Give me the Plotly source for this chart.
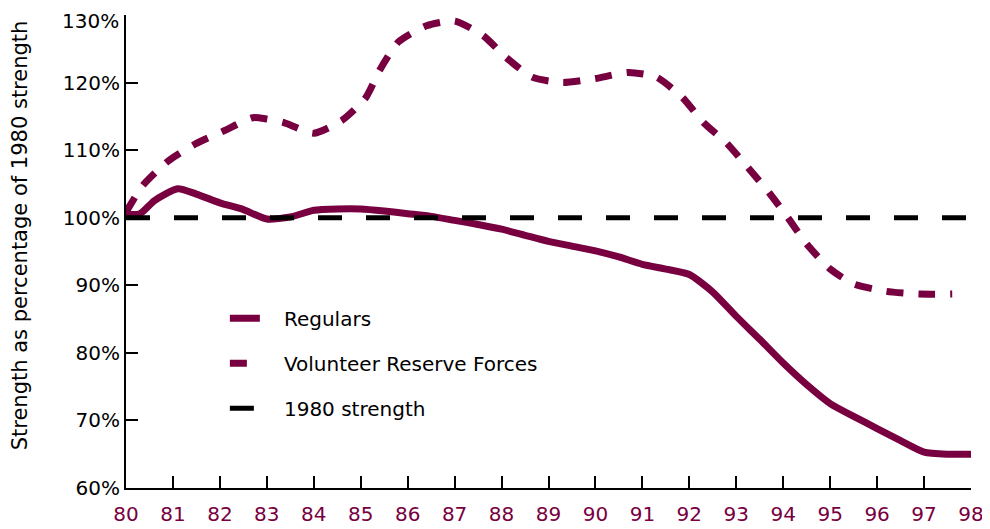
import plotly.graph_objects as go

# Regulars (solid) - year (19xx) vs % of 1980 strength
reg_years = [80, 80.3, 80.6, 81.1, 81.5, 82, 82.5, 83, 83.5, 84, 84.5, 85, 85.5, 86, 86.5,
             87, 87.5, 88, 88.5, 89, 89.5, 90, 90.5, 91, 91.5, 92, 92.5, 93, 93.5, 94,
             94.5, 95, 95.5, 96, 96.5, 97, 97.5, 98]
reg_vals = [100.5, 100.6, 102.5, 104.3, 103.5, 102.2, 101.2, 99.8, 100.1, 101.1, 101.3, 101.3,
            101.0, 100.6, 100.2, 99.6, 99.0, 98.3, 97.4, 96.5, 95.8, 95.1, 94.2, 93.1, 92.4,
            91.6, 89.0, 85.4, 82.0, 78.5, 75.3, 72.5, 70.6, 68.8, 67.0, 65.3, 65.0, 65.0]

# Volunteer Reserve Forces (dashed)
vrf_years = [80, 80.35, 80.9, 81.5, 82.1, 82.7, 83.0, 83.35, 84.0, 84.6, 85.1, 85.4, 85.8,
             86.4, 87.0, 87.6, 88.1, 88.65, 89.3, 90.0, 90.7, 91.3, 91.85, 92.3, 92.8,
             93.25, 93.7, 94.1, 94.5, 95.0, 95.5, 96.2, 96.9, 97.6]
vrf_vals = [100.8, 104.7, 108.4, 111.0, 112.9, 114.8, 114.6, 114.1, 112.5, 114.4, 117.7,
            121.8, 126.0, 128.4, 129.1, 127.0, 123.7, 120.8, 120.0, 120.6, 121.5, 120.8,
            117.8, 114.1, 111.0, 107.4, 103.7, 100.0, 96.1, 92.4, 90.2, 89.1, 88.7, 88.7]

# 1980 strength baseline
base_years = [80, 98]
base_vals = [100, 100]

y_ticks = [60, 70, 80, 90, 100, 110, 120, 130]
y_tick_labels = ["60%", "70%", "80%", "90%", "100%", "110%", "120%", "130%"]
x_ticks = list(range(80, 99))
x_tick_labels = [str(v) for v in x_ticks]
y_title = "Strength as percentage of 1980 strength"

MAROON = "#780040"
FONT = "DejaVu Sans, Verdana, sans-serif"
PAD = "\u00a0\u00a0\u00a0"

fig = go.Figure()
fig.add_trace(go.Scatter(x=reg_years, y=reg_vals, mode="lines", name=PAD + "Regulars",
                         legendgroup="a", line=dict(color=MAROON, width=7, shape="spline", smoothing=0.6)))
fig.add_trace(go.Scatter(x=vrf_years, y=vrf_vals, mode="lines", name=PAD + "Volunteer Reserve Forces",
                         legendgroup="b", line=dict(color=MAROON, width=7, dash="17px,15px",
                                                    shape="spline", smoothing=0.6)))
fig.add_trace(go.Scatter(x=base_years, y=base_vals, mode="lines", name=PAD + "1980 strength",
                         legendgroup="c", line=dict(color="black", width=5, dash="24px,24px")))

# top tick label is drawn a little lower (as in the reference) so it is not cut at the edge
shown_labels = y_tick_labels[:-1] + [""]
fig.add_annotation(x=0, xref="paper", y=y_ticks[-1], yref="y", text=y_tick_labels[-1],
                   showarrow=False, xanchor="right", yanchor="middle", xshift=-5, yshift=-6,
                   font=dict(size=20, family=FONT, color="black"))
fig.add_annotation(x=-0.125, xref="paper", y=0.535, yref="paper", text=y_title,
                   textangle=-90, showarrow=False, xanchor="center", yanchor="middle",
                   font=dict(size=21, family=FONT, color="black"))

# page body has an 8px default margin: figure is sized so that it fills the 990x529 window
fig.update_layout(
    width=982, height=521,
    margin=dict(l=118, r=19, t=7, b=41),
    paper_bgcolor="white", plot_bgcolor="white",
    font=dict(family=FONT, size=20, color="black"),
    showlegend=True,
    legend=dict(x=0.117, y=0.40, xanchor="left", yanchor="top",
                bgcolor="rgba(0,0,0,0)", font=dict(size=20, color="black", family=FONT),
                tracegroupgap=16),
    xaxis=dict(range=[80, 98], tickvals=x_ticks, ticktext=x_tick_labels, automargin=False,
               showgrid=False, zeroline=False, showline=True, linecolor="black", linewidth=2,
               ticks="inside", ticklen=12, tickwidth=2, tickcolor="black",
               ticklabelstandoff=7, ticklabeloverflow="allow",
               tickfont=dict(color=MAROON, size=20, family=FONT)),
    yaxis=dict(range=[60, 130], tickvals=y_ticks, ticktext=shown_labels, automargin=False,
               showgrid=False, zeroline=False, showline=True, linecolor="black", linewidth=2,
               ticks="inside", ticklen=12, tickwidth=2, tickcolor="black",
               ticklabeloverflow="allow",
               tickfont=dict(color="black", size=20, family=FONT)),
)

fig.write_html("out.html")
